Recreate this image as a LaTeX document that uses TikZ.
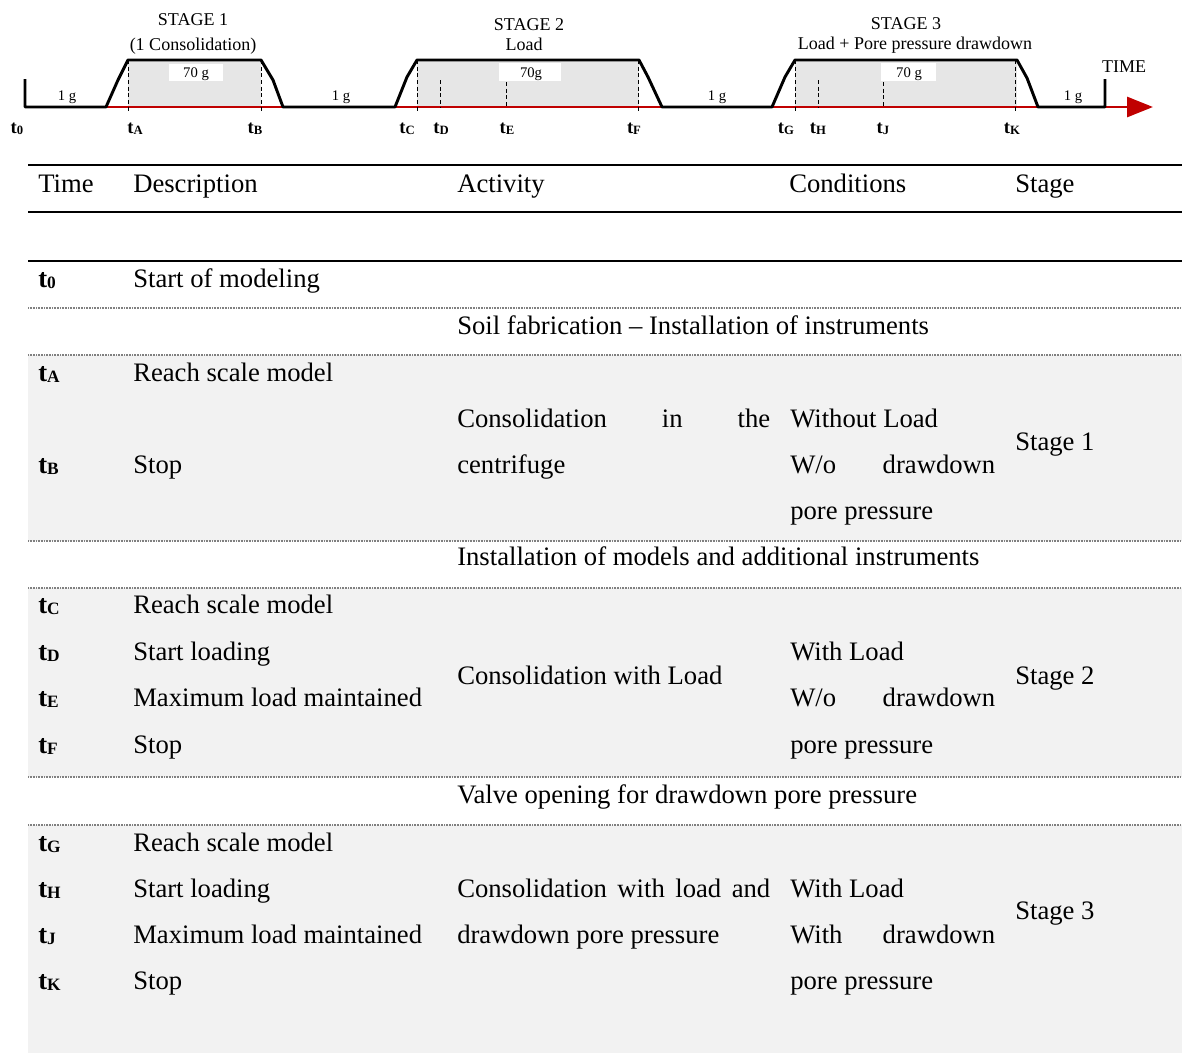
\documentclass[tikz,border=0pt]{standalone}
\usepackage{fontspec}
\setmainfont{Liberation Serif}
\usetikzlibrary{arrows.meta}
\definecolor{redline}{HTML}{C00000}
\definecolor{bandgray}{HTML}{F2F2F2}
\definecolor{fillgray}{HTML}{E6E6E6}
\newcommand{\tlab}[1]{\textbf{t}\raisebox{-1.3pt}{\fontsize{9.5}{10}\selectfont\bfseries #1}}
\newcommand{\ttab}[1]{\textbf{t}\raisebox{-1pt}{\fontsize{13}{14}\selectfont\bfseries #1}}
\begin{document}
\begin{tikzpicture}[x=0.75pt,y=-0.75pt,
  blk/.style={line width=2.2pt, black, line join=round},
  redl/.style={line width=2.2pt, redline},
  dsh/.style={line width=0.6pt, dash pattern=on 3pt off 2pt},
  wbox/.style={fill=white, draw=none},
  stg/.style={anchor=base, inner sep=0pt, font=\fontsize{13.5}{15}\selectfont},
  gl/.style={anchor=base, inner sep=0pt, font=\fontsize{11}{12}\selectfont},
  tl/.style={anchor=base, inner sep=0pt, font=\fontsize{14}{15}\selectfont},
  tx/.style={anchor=base west, inner sep=0pt, font=\fontsize{20}{24}\selectfont},
  rule/.style={line width=1.5pt},
  dotl/.style={line width=0.8pt, gray, dash pattern=on 0.6pt off 0.6pt}]
\useasboundingbox (0,0) rectangle (1182,1053);

% ---------- timeline ----------
\fill[fillgray] (128,60) rectangle (261,107);
\fill[fillgray] (417,60) rectangle (639,107);
\fill[fillgray] (795,60) rectangle (1017,107);
\fill[wbox] (169,64) rectangle (223,81);
\fill[wbox] (499,63) rectangle (561,81);
\fill[wbox] (881,63) rectangle (936,81);

\draw[redl] (106,107) -- (283,107);
\draw[redl] (395,107) -- (662,107);
\draw[redl] (772,107) -- (1038,107);
\coordinate (arrS) at (1105,107);
\coordinate (arrE) at (1153,107);
\draw[redl, -{Triangle[length=19.5pt,width=15pt]}] (arrS) -- (arrE);

\draw[blk] (25,79) -- (25,107) -- (106,107) -- (118,80) -- (128,60) -- (261,60) -- (273,80) -- (283,107)
  -- (395,107) -- (407,77) -- (417,60) -- (639,60) -- (648,77) -- (662,107)
  -- (772,107) -- (785,77) -- (795,60) -- (1017,60) -- (1027,78) -- (1038,107)
  -- (1105,107) -- (1105,79);

\draw[dsh] (128,60) -- (128,112);
\draw[dsh] (261,60) -- (261,112);
\draw[dsh] (417,60) -- (417,112);
\draw[dsh] (440,80) -- (440,107);
\draw[dsh] (506,82) -- (506,107);
\draw[dsh] (638,60) -- (638,112);
\draw[dsh] (795,60) -- (795,112);
\draw[dsh] (818,80) -- (818,107);
\draw[dsh] (883,82) -- (883,107);
\draw[dsh] (1015,60) -- (1015,112);

\node[stg] (s1a) at (193,26) {STAGE 1};
\node[stg] (s1b) at (193,50) {(1 Consolidation)};
\node[stg] (s2a) at (529,30) {STAGE 2};
\node[stg] (s2b) at (524,50) {Load};
\node[stg] (s3a) at (906,29) {STAGE 3};
\node[stg] (s3b) at (915,49) {Load + Pore pressure drawdown};
\node[stg] (time) at (1124,72) {TIME};

\node[gl] (g70a) at (196,77) {70 g};
\node[gl] (g70b) at (531,77) {70g};
\node[gl] (g70c) at (909,77) {70 g};
\node[gl] (g1a) at (67,100) {1 g};
\node[gl] (g1b) at (341,100) {1 g};
\node[gl] (g1c) at (717,100) {1 g};
\node[gl] (g1d) at (1073,100) {1 g};

\node[tl] (l0) at (17,133) {\tlab{0}};
\node[tl] (lA) at (135,133) {\tlab{A}};
\node[tl] (lB) at (255,133) {\tlab{B}};
\node[tl] (lC) at (407,133) {\tlab{C}};
\node[tl] (lD) at (441,133) {\tlab{D}};
\node[tl] (lE) at (507,133) {\tlab{E}};
\node[tl] (lF) at (634,133) {\tlab{F}};
\node[tl] (lG) at (786,133) {\tlab{G}};
\node[tl] (lH) at (818,133) {\tlab{H}};
\node[tl] (lJ) at (883,133) {\tlab{J}};
\node[tl] (lK) at (1012,133) {\tlab{K}};

% ---------- table ----------
\fill[bandgray] (28,355) rectangle (1182,541);
\fill[bandgray] (28,588) rectangle (1182,777);
\fill[bandgray] (28,825) rectangle (1182,1053);

\draw[rule] (28,165) -- (1182,165);
\draw[rule] (28,212) -- (1182,212);
\draw[rule] (28,261) -- (1182,261);
\foreach \yy in {308,355,541,588,777,825} \draw[dotl] (28,\yy) -- (1182,\yy);

\node[tx] (hT) at (38,192) {Time};
\node[tx] (hD) at (133,192) {Description};
\node[tx] (hA) at (457,192) {Activity};
\node[tx] (hC) at (789,192) {Conditions};
\node[tx] (hS) at (1015,192) {Stage};

\node[tx] (r0t) at (38,287) {\ttab{0}};
\node[tx] (r0d) at (133,287) {Start of modeling};
\node[tx] (soil) at (457,334) {Soil fabrication – Installation of instruments};

\node[tx] (rAt) at (38,381) {\ttab{A}};
\node[tx] (rAd) at (133,381) {Reach scale model};
\node[tx] (rBt) at (38,473) {\ttab{B}};
\node[tx] (rBd) at (133,473) {Stop};
\node[tx] (a1a) at (457,427) {\makebox[234.75pt][s]{Consolidation in the}};
\node[tx] (a1b) at (457,473) {centrifuge};
\node[tx] (c1a) at (790,427) {Without Load};
\node[tx] (c1b) at (790,473) {\makebox[153.75pt][s]{W/o drawdown}};
\node[tx] (c1c) at (790,519) {pore pressure};
\node[tx] (st1) at (1015,450) {Stage 1};

\node[tx] (inst) at (457,565) {Installation of models and additional instruments};

\node[tx] (rCt) at (38,613) {\ttab{C}};
\node[tx] (rCd) at (133,613) {Reach scale model};
\node[tx] (rDt) at (38,660) {\ttab{D}};
\node[tx] (rDd) at (133,660) {Start loading};
\node[tx] (rEt) at (38,706) {\ttab{E}};
\node[tx] (rEd) at (133,706) {Maximum load maintained};
\node[tx] (rFt) at (38,753) {\ttab{F}};
\node[tx] (rFd) at (133,753) {Stop};
\node[tx] (a2) at (457,684) {Consolidation with Load};
\node[tx] (c2a) at (790,660) {With Load};
\node[tx] (c2b) at (790,706) {\makebox[153.75pt][s]{W/o drawdown}};
\node[tx] (c2c) at (790,753) {pore pressure};
\node[tx] (st2) at (1015,684) {Stage 2};

\node[tx] (valve) at (457,803) {Valve opening for drawdown pore pressure};

\node[tx] (rGt) at (38,851) {\ttab{G}};
\node[tx] (rGd) at (133,851) {Reach scale model};
\node[tx] (rHt) at (38,897) {\ttab{H}};
\node[tx] (rHd) at (133,897) {Start loading};
\node[tx] (rJt) at (38,943) {\ttab{J}};
\node[tx] (rJd) at (133,943) {Maximum load maintained};
\node[tx] (rKt) at (38,989) {\ttab{K}};
\node[tx] (rKd) at (133,989) {Stop};
\node[tx] (a3a) at (457,897) {\makebox[234.75pt][s]{Consolidation with load and}};
\node[tx] (a3b) at (457,943) {drawdown pore pressure};
\node[tx] (c3a) at (790,897) {With Load};
\node[tx] (c3b) at (790,943) {\makebox[153.75pt][s]{With drawdown}};
\node[tx] (c3c) at (790,989) {pore pressure};
\node[tx] (st3) at (1015,919) {Stage 3};
\end{tikzpicture}
\end{document}
